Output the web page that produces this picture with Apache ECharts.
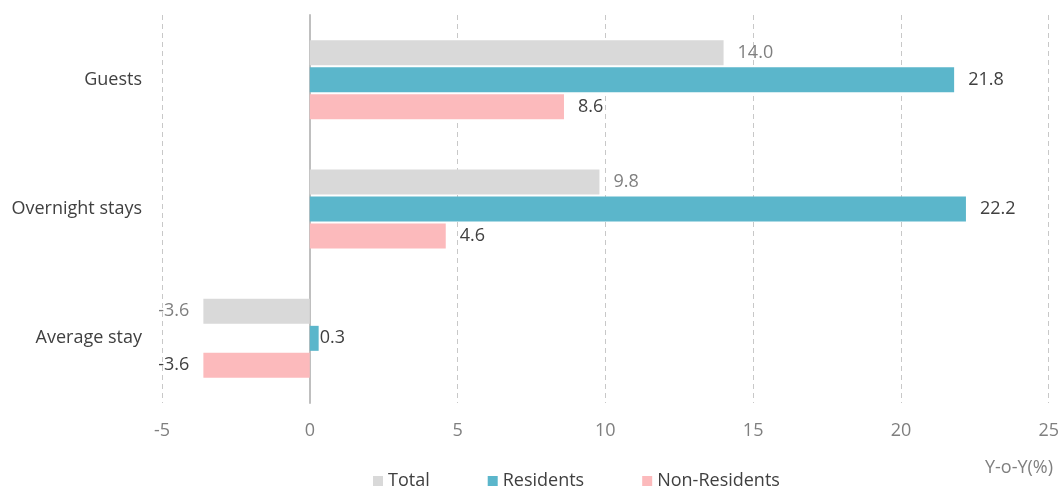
<!DOCTYPE html>
<html>
<head>
<meta charset="utf-8">
<script src="https://cdn.jsdelivr.net/npm/echarts@6/dist/echarts.min.js"></script>
<style>
  html, body { margin: 0; padding: 0; background: #fff; }
  #chart { width: 1062px; height: 488px; }
</style>
</head>
<body>
<div id="chart"></div>
<script>
var categories = ['Guests', 'Overnight stays', 'Average stay'];
var total = [14.0, 9.8, -3.6];
var residents = [21.8, 22.2, 0.3];
var nonResidents = [8.6, 4.6, -3.6];
var seriesNames = ['Total', 'Residents', 'Non-Residents'];
var colors = ['#d9d9d9', '#5bb6cb', '#fcbabc'];
var labelColors = ['#7f7f7f', '#404040', '#404040'];

var font = 'Open Sans';

// negative bars get their label on the left side, tiny bars keep it close
function items(arr) {
    return arr.map(function (v) {
        return {
            value: v,
            label: {
                position: v < 0 ? 'left' : 'right',
                distance: Math.abs(v) < 1 ? 1 : 14
            }
        };
    });
}

function makeSeries(name, arr, i) {
    return {
        name: name,
        type: 'bar',
        barWidth: 25,
        barGap: '8%',
        itemStyle: { color: colors[i] },
        label: {
            show: true,
            color: labelColors[i],
            fontFamily: font,
            fontSize: 18,
            formatter: function (p) { return p.value.toFixed(1); }
        },
        data: items(arr)
    };
}

var chart = echarts.init(document.getElementById('chart'));
chart.setOption({
    animation: false,
    textStyle: { fontFamily: font },
    grid: { left: 162, right: 13, top: 15, bottom: 85 },
    title: {
        text: 'Y-o-Y(%)',
        right: 4,
        top: 454,
        textStyle: { fontFamily: font, fontSize: 18, fontWeight: 'normal', color: '#7f7f7f' }
    },
    legend: {
        top: 467,
        left: 368,
        itemWidth: 10,
        itemHeight: 10,
        itemGap: 58,
        icon: 'rect',
        textStyle: { fontFamily: font, fontSize: 18, color: '#404040' },
        data: seriesNames
    },
    xAxis: {
        type: 'value',
        min: -5,
        max: 25,
        interval: 5,
        axisLine: { show: false },
        axisTick: { show: false },
        axisLabel: { color: '#7f7f7f', fontSize: 18, fontFamily: font, margin: 19 },
        splitLine: { lineStyle: { type: [5, 4], color: '#c8c8c8', width: 1 } }
    },
    yAxis: {
        type: 'category',
        inverse: true,
        data: categories,
        axisLine: { onZero: true, lineStyle: { color: '#bfbfbf', width: 2 } },
        axisTick: { show: false },
        axisLabel: { color: '#404040', fontSize: 18, fontFamily: font, margin: 20 }
    },
    series: [
        makeSeries(seriesNames[0], total, 0),
        makeSeries(seriesNames[1], residents, 1),
        makeSeries(seriesNames[2], nonResidents, 2)
    ]
});
</script>
</body>
</html>
